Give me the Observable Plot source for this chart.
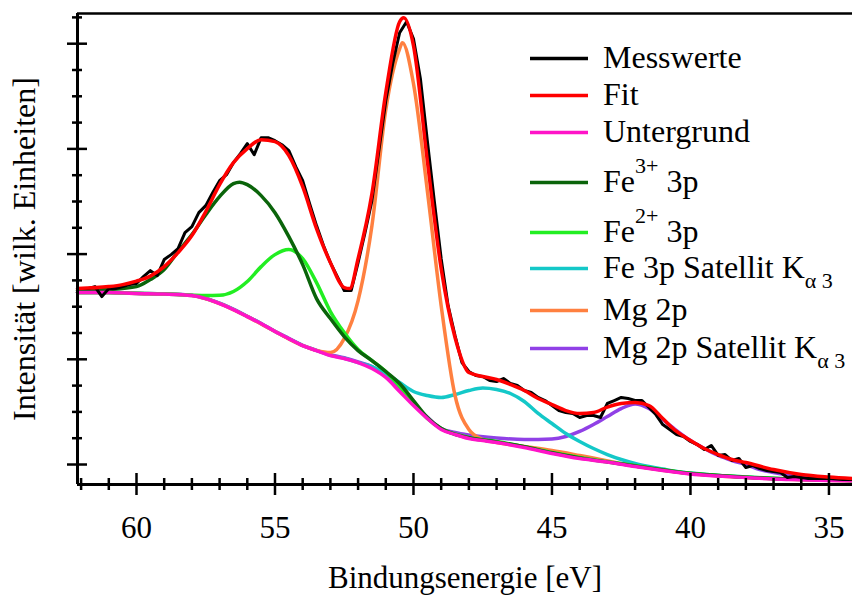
<!DOCTYPE html>
<html><head><meta charset="utf-8">
<script src="https://cdn.jsdelivr.net/npm/d3@7"></script>
<script src="https://cdn.jsdelivr.net/npm/@observablehq/plot@0.6"></script>
<style>html,body{margin:0;padding:0;background:#fff;}</style>
</head><body><div id="chart"></div>
<script>
// ---------- axis extents & ticks ----------
const xDomain = [62.13, 34.15];          // Bindungsenergie (eV), reversed
const yDomain = [-19, 428.7];            // Intensität (willk. Einheiten)
const xMajorTicks = [60, 55, 50, 45, 40, 35];
const xMinorTicks = [62, 61, 59, 58, 57, 56, 54, 53, 52, 51, 49, 48, 47, 46, 44, 43, 42, 41, 39, 38, 37, 36];
const yMajorTicks = [0, 100, 200, 300, 400];
const yMinorTicks = [25, 50, 75, 125, 150, 175, 225, 250, 275, 325, 350, 375, 425];

// ---------- Messwerte ----------
const measEV = [62, 61.75, 61.5, 61.25, 61, 60.75, 60.5, 60.25, 60, 59.75, 59.5, 59.25, 59, 58.75, 58.5, 58.25,
  58, 57.75, 57.5, 57.25, 57, 56.75, 56.5, 56.25, 56, 55.75, 55.5, 55.25, 55, 54.75, 54.5, 54.25,
  54, 53.75, 53.5, 53.25, 53, 52.75, 52.5, 52.25, 52, 51.75, 51.5, 51.25, 51, 50.75, 50.5, 50.25,
  50, 49.75, 49.5, 49.25, 49, 48.75, 48.5, 48.25, 48, 47.75, 47.5, 47.25, 47, 46.75, 46.5, 46.25,
  46, 45.75, 45.5, 45.25, 45, 44.75, 44.5, 44.25, 44, 43.75, 43.5, 43.25, 43, 42.75, 42.5, 42.25,
  42, 41.75, 41.5, 41.25, 41, 40.75, 40.5, 40.25, 40, 39.75, 39.5, 39.25, 39, 38.75, 38.5, 38.25,
  38, 37.75, 37.5, 37.25, 37, 36.75, 36.5, 36.25, 36, 35.75, 35.5, 35, 34.5, 34.15];
const measI = [167.2, 167.2, 169.1, 159.6, 167.2, 167.2, 169.1, 171, 172, 178.6, 184.3, 179.6, 194.8, 199.5, 205.2, 220.4,
  226.1, 239.4, 246.1, 258.4, 269.8, 275.5, 286.9, 295.5, 305, 294.5, 310.7, 310.7, 307.8, 304, 298.3, 283.1,
  269.8, 248, 227.1, 208.1, 191.9, 178.6, 165.3, 165.3, 191.9, 220.4, 250.8, 298.3, 345.8, 381, 410.4, 420.9,
  404.7, 366.7, 307.8, 250.8, 195.7, 151, 122.6, 96.9, 88.4, 84.6, 83.6, 79.8, 78.9, 81.7, 77, 75.1,
  70.3, 68.4, 63.7, 60.8, 56.1, 51.3, 49.4, 48.5, 44.7, 46.6, 46.6, 44.7, 58, 60.8, 63.7, 62.7,
  60.8, 60.8, 54.2, 47.5, 38, 33.3, 28.5, 26.6, 21.9, 19, 14.3, 18.1, 8.6, 9.5, 3.8, 5.7,
  -2.9, -1, -3.8, -5.7, -6.7, -7.6, -12.4, -11.4, -12.4, -13.3, -13.3, -13.3, -14.3, -14.3];

// ---------- Fit ----------
const fitEV = [62.13, 61, 60.5, 60, 59.5, 59, 58.5, 58, 57.5, 57, 56.5, 56, 55.5, 55, 54.5, 54, 53.5, 53, 52.5, 52.3,
  52, 51.5, 51, 50.5, 50.35, 50, 49.5, 49, 48.5, 48, 47.5, 47, 46.5, 46, 45.5, 45, 44.5, 44, 43.5, 43,
  42.5, 42, 41.5, 41, 40.5, 40, 39.5, 39, 38.5, 38, 37, 36, 35, 34.15];
const fitI = [167.2, 169.1, 171, 174.3, 179.1, 188.1, 201.4, 217.6, 240.4, 266, 286.9, 300.2, 308.8, 306.9, 293.6, 264.1, 224.2, 191.9, 168.2, 167.2,
  195.7, 257.5, 353.4, 420.9, 424.7, 398.1, 288.8, 186.2, 120.7, 87.4, 83.6, 80.8, 76, 70.3, 62.7, 57, 51.3, 48.5, 49.4, 54.6,
  58, 58.9, 56.1, 43.7, 31.4, 22.8, 15.2, 9.5, 4.8, 1.9, -4.8, -9.5, -11.9, -13.3];

// ---------- Untergrund ----------
const bgEV = [62.13, 61, 60, 59, 58, 57.5, 57, 56.5, 56, 55.5, 55, 54.5, 54, 53.5, 53, 52.5, 52, 51.5, 51, 50.5,
  50, 49.5, 49, 48.5, 48, 47.5, 47, 46, 45, 44, 43, 42, 41, 40, 39, 38, 37, 36, 35, 34.15];
const bgI = [163.4, 163.4, 162.5, 162, 160.6, 157.7, 153, 147.3, 140.6, 134, 126.4, 119.7, 113, 108.3, 103.6, 100.7, 96.9, 91.2, 82.7, 69.4,
  56, 43.7, 33.3, 28.5, 24.7, 22.8, 20.9, 16.2, 10.5, 5.7, 2.4, -1.9, -5.7, -9, -10.9, -12.4, -13.8, -14.5, -15.2, -15.5];

// ---------- Fe3+ 3p ----------
const fe3EV = [62.13, 61, 60, 59.5, 59, 58.5, 58, 57.5, 57, 56.5, 56.28, 56, 55.5, 55, 54.5, 54, 53.5, 53, 52.5, 52,
  51.5, 51, 50.5, 50, 49.5, 49, 48, 47, 46, 45, 44, 42, 40, 38, 36, 34.15];
const fe3I = [165.3, 166.3, 169.1, 175.8, 185.3, 202.4, 218.5, 237.5, 254.6, 267, 268.4, 266, 255.6, 239.4, 216.6, 190, 157.7, 138.7, 121.6, 108.3,
  98.8, 88.4, 77, 60.8, 44.7, 34.2, 25.5, 21.5, 16.8, 11.1, 6.3, -1.4, -8.6, -12, -14.1, -15.2];

// ---------- Fe2+ 3p ----------
const fe2EV = [62.13, 61, 60, 59, 58, 57.5, 57, 56.5, 56, 55.5, 55, 54.5, 54, 53.5, 53, 52.5, 52, 51.5, 51, 50.5,
  50, 49.5, 49, 48, 47, 46, 45, 44, 42, 40, 38, 36, 34.15];
const fe2I = [163.6, 163.4, 162.8, 162.3, 161, 160.6, 160.8, 164.4, 173.9, 188.1, 199.5, 204.3, 195.7, 172.9, 145.4, 125.4, 109.3, 98.8, 88.4, 74.1,
  58.9, 43.7, 34.2, 25.8, 21.8, 17, 11.5, 6.8, -1, -8.3, -11.8, -14, -15.1];

// ---------- Fe 3p Satellit K_alpha3 ----------
const fesEV = [62.13, 61, 60, 59, 58, 57.5, 57, 56.5, 56, 55.5, 55, 54.5, 54, 53.5, 53, 52.5, 52, 51.5, 51, 50.5,
  50, 49.5, 49, 48.5, 48, 47.5, 47, 46.5, 46, 45.5, 45, 44.5, 44, 43.5, 43, 42.5, 42, 41.5, 41, 40.5,
  40, 39, 38, 37, 36, 35, 34.15];
const fesI = [163.5, 163.5, 162.6, 162.1, 160.7, 157.8, 153.1, 147.4, 140.7, 134.1, 126.5, 119.8, 113.1, 108.5, 103.8, 101, 96.9, 93.1, 86.5, 77.9,
  69.4, 65.6, 63.7, 66.5, 70.3, 72.7, 71.3, 67.5, 59.9, 48.5, 39, 29.5, 21.9, 15.2, 9.5, 4.8, 1, -1.9, -4.3, -6.7,
  -8.1, -10.5, -11.9, -13.3, -14.3, -14.9, -15.2];

// ---------- Mg 2p ----------
const mgEV = [62.13, 61, 60, 59, 58, 57, 56, 55, 54, 53.5, 53, 52.5, 52, 51.5, 51, 50.5, 50.4, 50, 49.5, 49,
  48.5, 48, 47.5, 47, 46, 45, 44, 42, 40, 38, 36, 34.15];
const mgI = [163.4, 163.4, 162.5, 162, 160.6, 153, 140.6, 126.4, 113, 108.5, 106.4, 119.7, 155.8, 227, 337.3, 395.2, 400.9, 362, 260.3, 151,
  65.6, 33.3, 23.8, 20.9, 17.1, 13.3, 8.6, -1.5, -8.8, -12.3, -14.5, -15.4];

// ---------- Mg 2p Satellit K_alpha3 ----------
const mgsEV = [62.13, 61, 60, 59, 58, 57, 56, 55, 54, 53, 52.5, 52, 51.5, 51, 50.5, 50, 49.5, 49, 48.5, 48,
  47, 46, 45.5, 45, 44.5, 44, 43.5, 43, 42.5, 42, 41.5, 41, 40.5, 40, 39.5, 39, 38.5, 38, 37.5, 37,
  36.5, 36, 35, 34.15];
const mgsI = [163.6, 163.6, 162.7, 162.2, 160.8, 153.3, 140.9, 126.7, 113.3, 104.5, 101.5, 97.5, 93.1, 83.6, 71.3, 58, 45, 34.2, 30.4, 28,
  25.2, 23.8, 23.8, 24.2, 26.6, 31.4, 38, 45.6, 53.2, 57.5, 53.2, 42.8, 32.3, 22.8, 15.2, 8.6, 3.8, 0, -4.8, -7.6,
  -10, -11.4, -13.3, -14.3];

// ---------- legend ----------
const seriesNames = ["Messwerte", "Fit", "Untergrund", "Fe3+ 3p", "Fe2+ 3p", "Fe 3p Satellit Kα3", "Mg 2p", "Mg 2p Satellit Kα3"];
const seriesColors = ["#000000", "#ff0000", "#ff14c8", "#0a640a", "#22ee22", "#14c8c8", "#ff8040", "#9040e6"];
const legendParts = [
  [["Messwerte", ""]],
  [["Fit", ""]],
  [["Untergrund", ""]],
  [["Fe", ""], ["3+", "sup"], [" 3p", ""]],
  [["Fe", ""], ["2+", "sup"], [" 3p", ""]],
  [["Fe 3p Satellit K", ""], ["α 3", "sub"]],
  [["Mg 2p", ""]],
  [["Mg 2p Satellit K", ""], ["α 3", "sub"]]
];

const rows = (xs, ys) => xs.map((x, i) => ({x, y: ys[i]}));
const curveData = {
  "Messwerte": rows(measEV, measI),
  "Fit": rows(fitEV, fitI),
  "Untergrund": rows(bgEV, bgI),
  "Fe3+ 3p": rows(fe3EV, fe3I),
  "Fe2+ 3p": rows(fe2EV, fe2I),
  "Fe 3p Satellit Kα3": rows(fesEV, fesI),
  "Mg 2p": rows(mgEV, mgI),
  "Mg 2p Satellit Kα3": rows(mgsEV, mgsI)
};
const colorOf = n => seriesColors[seriesNames.indexOf(n)];
const drawOrder = ["Mg 2p Satellit Kα3", "Fe 3p Satellit Kα3", "Mg 2p", "Fe2+ 3p", "Fe3+ 3p", "Untergrund", "Messwerte", "Fit"];

const lineMarks = drawOrder.map(n => Plot.line(curveData[n], {
  x: "x", y: "y", stroke: colorOf(n),
  strokeWidth: n === "Messwerte" ? 3 : 3.5,
  curve: n === "Messwerte" ? "linear" : "monotone-x",
  strokeLinejoin: "round"
}));

const plot = Plot.plot({
  width: 852, height: 595,
  marginLeft: 77, marginRight: 0, marginTop: 13, marginBottom: 111,
  style: {fontFamily: "'Liberation Serif', 'Times New Roman', serif", fontSize: "31px", color: "#000", background: "#fff"},
  x: {domain: xDomain},
  y: {domain: yDomain},
  marks: [
    ...lineMarks,
    Plot.ruleX([xDomain[0]], {strokeWidth: 3}),
    Plot.ruleY([yDomain[0]], {strokeWidth: 3}),
    Plot.ruleY([yDomain[1]], {strokeWidth: 2.5}),
    Plot.axisY(yMinorTicks, {tickSize: 10, dx: 5, fill: "none", strokeWidth: 2.5, label: null}),
    Plot.axisY(yMajorTicks, {tickSize: 20, dx: 10, fill: "none", strokeWidth: 2.5, label: null}),
    Plot.axisY([], {tickSize: 0, label: "Intensität [wilk. Einheiten]", labelAnchor: "center", labelOffset: 65, labelArrow: "none", fontSize: 32}),
    Plot.axisX(xMinorTicks, {tickSize: 12, dy: -6, fill: "none", strokeWidth: 2.5, label: null}),
    Plot.axisX(xMajorTicks, {tickSize: 22, dy: -11, fill: "none", strokeWidth: 2.5, label: null}),
    Plot.axisX(xMajorTicks, {tickSize: 0, tickPadding: 31, fontSize: 31, tickFormat: d => String(d),
      label: "Bindungsenergie [eV]", labelAnchor: "center", labelOffset: 103, labelArrow: "none"})
  ]
});
document.getElementById("chart").appendChild(plot);

// legend drawn into the plot's SVG
const svg = d3.select(plot);
const lg = svg.append("g")
  .attr("font-family", "'Liberation Serif', 'Times New Roman', serif")
  .attr("font-size", 32).attr("fill", "#000").attr("text-anchor", "start");
const baselines = [68, 105, 142, 192, 242, 278, 320, 358];
seriesNames.forEach((n, i) => {
  const b = baselines[i];
  lg.append("line").attr("x1", 530).attr("x2", 588).attr("y1", b - 9.5).attr("y2", b - 9.5)
    .attr("stroke", seriesColors[i]).attr("stroke-width", 3.5);
  const t = lg.append("text").attr("x", 603).attr("y", b).attr("text-anchor", "start");
  let shift = 0;
  legendParts[i].forEach(([txt, kind]) => {
    const target = kind === "sup" ? -19 : kind === "sub" ? 10 : 0;
    t.append("tspan").attr("dy", target - shift)
      .attr("font-size", kind ? 22 : 32)
      .attr("xml:space", "preserve")
      .text(txt);
    shift = target;
  });
});
</script>
</body></html>
